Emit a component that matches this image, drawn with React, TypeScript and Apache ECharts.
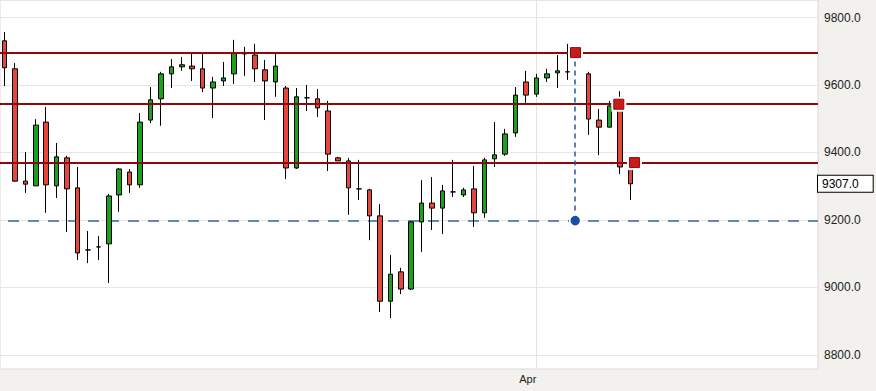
import React, { useEffect, useRef } from 'react';
import * as echarts from 'echarts';

// Daily candles, index = trading slot (index 55 is an empty slot)
const opens: (number | null)[] = [
  9731, 9648, 9315, 9301, 9490, 9301, 9384, 9295, 9111, 9120,
  9129, 9274, 9342, 9304, 9496, 9559, 9633, 9654, 9656, 9648,
  9591, 9612, 9633, 9695, 9689, 9645, 9609, 9591, 9354, 9562,
  9559, 9523, 9384, 9375, 9292, 9289, 9212, 8959, 9046, 8995,
  9194, 9250, 9235, 9283, 9274, 9292, 9221, 9381, 9395, 9458,
  9609, 9573, 9621, 9636, 9639, null, 9633, 9496, 9475, 9556,
  9354,
];
const closes: (number | null)[] = [
  9651, 9315, 9306, 9481, 9304, 9387, 9292, 9102, 9111, 9120,
  9271, 9351, 9304, 9490, 9556, 9633, 9654, 9660, 9648, 9591,
  9609, 9621, 9695, 9692, 9648, 9612, 9656, 9354, 9565, 9562,
  9532, 9395, 9375, 9295, 9292, 9212, 8959, 9039, 8995, 9194,
  9250, 9235, 9286, 9283, 9289, 9221, 9378, 9393, 9455, 9570,
  9570, 9621, 9633, 9642, 9639, null, 9499, 9475, 9538, 9357,
  9307,
];
const lows: (number | null)[] = [
  9597, 9313, 9280, 9300, 9221, 9265, 9164, 9081, 9072, 9081,
  9013, 9224, 9280, 9295, 9487, 9479, 9591, 9642, 9612, 9579,
  9502, 9597, 9603, 9627, 9609, 9496, 9565, 9321, 9351, 9523,
  9505, 9345, 9375, 9215, 9259, 9140, 8927, 8909, 8980, 8992,
  9105, 9170, 9158, 9268, 9268, 9179, 9206, 9357, 9390, 9446,
  9547, 9565, 9609, 9591, 9615, null, 9452, 9392, 9475, 9336,
  9259,
];
const highs: (number | null)[] = [
  9757, 9665, 9401, 9499, 9535, 9428, 9390, 9357, 9167, 9152,
  9277, 9354, 9351, 9517, 9594, 9639, 9677, 9683, 9695, 9695,
  9624, 9668, 9734, 9713, 9722, 9674, 9695, 9597, 9591, 9600,
  9588, 9553, 9387, 9384, 9378, 9292, 9247, 9096, 9058, 9197,
  9318, 9327, 9304, 9378, 9295, 9360, 9384, 9490, 9470, 9594,
  9642, 9633, 9648, 9689, 9722, null, 9639, 9529, 9553, 9582,
  9354,
];

// Drawn annotations
const levelValues = [9696, 9543, 9370];
const levelAnchorX = [54.75, 58.9, 60.4];
const supportValue = 9198;
const supportAnchorX = 54.72;

// Axis labels
const monthTickIndex = [51];
const monthTickLabel = ['Apr'];

const FONT = "'Liberation Sans', Arial, sans-serif";

export default function App() {
  const ref = useRef<HTMLDivElement>(null);

  useEffect(() => {
    document.body.style.margin = '0';
    const chart = echarts.init(ref.current!, null, { renderer: 'svg' });

    const candleData: number[][] = [];
    opens.forEach((o, i) => {
      if (o == null) return;
      candleData.push([i, o, closes[i] as number, lows[i] as number, highs[i] as number]);
    });
    let lastClose = 0;
    for (let i = closes.length - 1; i >= 0; i--) {
      if (closes[i] != null) { lastClose = closes[i] as number; break; }
    }

    const option: any = {
      animation: false,
      backgroundColor: '#f3f1ee',
      grid: {
        left: 0,
        top: 0,
        right: 58,
        bottom: 22,
        show: true,
        backgroundColor: '#ffffff',
        borderColor: '#d9d9d9',
        borderWidth: 1,
      },
      xAxis: {
        type: 'value',
        min: -0.43,
        max: 78,
        axisLine: { show: false },
        axisTick: { show: false },
        splitLine: { show: false },
        axisLabel: {
          customValues: monthTickIndex,
          formatter: (v: number) => {
            const k = monthTickIndex.indexOf(Math.round(v));
            return k >= 0 ? monthTickLabel[k] : '';
          },
          color: '#222',
          fontSize: 11,
          fontFamily: FONT,
          margin: 4,
          align: 'right',
        },
      },
      yAxis: {
        type: 'value',
        position: 'right',
        min: 8758,
        max: 9852,
        splitNumber: 5,
        axisLine: { show: false },
        axisTick: { show: false },
        splitLine: { lineStyle: { color: '#e6e6e6', width: 1 } },
        axisLabel: {
          showMinLabel: false,
          showMaxLabel: false,
          formatter: (v: number) => v.toFixed(1),
          color: '#222',
          fontSize: 12,
          fontFamily: FONT,
          margin: 6,
        },
      },
      series: [
        {
          type: 'line',
          data: [],
          silent: true,
          z: 1,
          markLine: {
            silent: true,
            symbol: ['none', 'none'],
            z: 1,
            label: { show: false },
            data: [
              {
                xAxis: monthTickIndex[0],
                lineStyle: { color: '#e3e3e3', width: 1, type: 'solid' },
              },
              {
                yAxis: supportValue,
                lineStyle: { color: '#3567a6', width: 1.5, type: [11, 9], dashOffset: 12 },
              },
            ],
          },
        },
        {
          type: 'line',
          data: [],
          silent: true,
          z: 6,
          markLine: {
            silent: true,
            symbol: ['none', 'none'],
            z: 6,
            data: [
              {
                yAxis: lastClose,
                lineStyle: { color: 'rgba(0,0,0,0)', width: 1 },
                label: {
                  show: true,
                  position: 'end',
                  distance: 0,
                  formatter: (p: any) => Number(p.value).toFixed(1),
                  color: '#000',
                  fontSize: 12,
                  fontFamily: FONT,
                  backgroundColor: '#ffffff',
                  borderColor: '#000000',
                  borderWidth: 1,
                  padding: [2, 14, 2, 4],
                },
              },
            ],
          },
        },
        {
          type: 'candlestick',
          data: candleData,
          encode: { x: 0, y: [1, 2, 3, 4] },
          barWidth: 5,
          clip: false,
          z: 2,
          itemStyle: {
            color: '#1aa31a',
            color0: '#e8453c',
            borderColor: '#000000',
            borderColor0: '#000000',
            borderColorDoji: '#000000',
            borderWidth: 1,
          },
          markLine: {
            silent: true,
            symbol: ['none', 'none'],
            label: { show: false },
            data: [
              ...levelValues.map((v) => ({
                yAxis: v,
                lineStyle: { color: '#8e0a0a', width: 2, type: 'solid' },
              })),
              [
                { coord: [supportAnchorX, levelValues[0]], lineStyle: { color: '#1f5aa0', width: 1.5, type: [5, 4] } },
                { coord: [supportAnchorX, supportValue] },
              ],
            ],
          },
          markPoint: {
            silent: true,
            label: { show: false },
            data: [
              ...levelValues.map((v, k) => ({
                coord: [levelAnchorX[k], v],
                symbol: 'rect',
                symbolSize: 15,
                itemStyle: { color: '#ffffff' },
              })),
              ...levelValues.map((v, k) => ({
                coord: [levelAnchorX[k], v],
                symbol: 'rect',
                symbolSize: 10,
                itemStyle: { color: '#c81b1b', borderColor: '#8a0d0d', borderWidth: 1 },
              })),
              {
                coord: [supportAnchorX, supportValue],
                symbol: 'circle',
                symbolSize: 11,
                itemStyle: { color: '#1a4fa6', borderColor: '#ffffff', borderWidth: 1.5 },
              },
            ],
          },
        },
      ],
    };

    chart.setOption(option);
    return () => chart.dispose();
  }, []);

  return <div ref={ref} style={{ width: 876, height: 391 }} />;
}
